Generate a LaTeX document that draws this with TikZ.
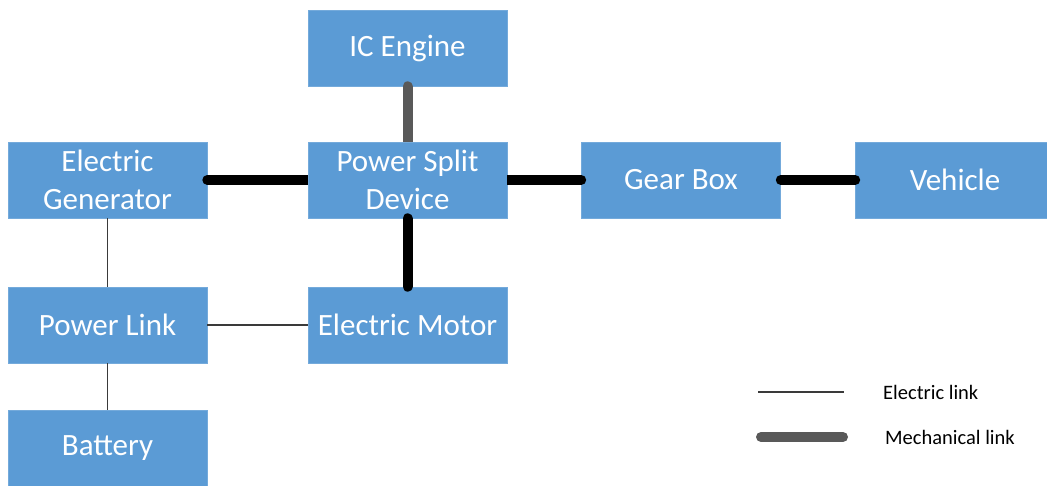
\documentclass[tikz,border=0pt]{standalone}
\usepackage{fontspec}
\setmainfont{Carlito}
\definecolor{boxblue}{HTML}{5B9BD5}
\definecolor{mechgrey}{HTML}{595959}
\definecolor{elecgrey}{HTML}{3A3A3A}
\begin{document}
\begin{tikzpicture}[x=1pt,y=-1pt,
  blockbox/.style={fill=boxblue, draw=boxblue!85!white, line width=0.6pt,
    minimum width=199pt, minimum height=76pt, inner sep=0pt,
    text=white, align=center, font=\fontsize{31}{38}\selectfont},
  mechblack/.style={line width=10pt, black},
  mechgreyline/.style={line width=10pt, mechgrey},
  eleclink/.style={line width=1.3pt, elecgrey},
  legendtext/.style={anchor=west, inner sep=0pt, font=\fontsize{20.5}{24}\selectfont, text=black}
]
\useasboundingbox (0,0) rectangle (1047,485);
\begin{scope}
\clip (0,0) rectangle (1047,485);
% boxes
\node[blockbox] (ice)   at (407.5,48)  {IC Engine};
\node[blockbox] (gen)   at (107.5,180) {Electric\\Generator};
\node[blockbox] (psd)   at (407.5,180) {Power Split\\Device};
\node[blockbox] (gear)  at (681,180)   {Gear Box};
\node[blockbox] (veh)   at (955,180)   {Vehicle};
\node[blockbox] (plink) at (107.5,325) {Power Link};
\node[blockbox] (motor) at (407.5,325) {Electric Motor};
\node[blockbox] (batt)  at (107.5,448) {Battery};
\end{scope}
% mechanical links (round cap over the box where the reference shows one, flat at box edge otherwise)
\draw[mechgreyline, line cap=round, shorten >=6pt] (ice.south) -- (psd.north);
\draw[mechgreyline] ([yshift=8pt]psd.north) -- (psd.north);
\draw[mechblack, line cap=round, shorten >=6pt] (gen.east) -- (psd.west);
\draw[mechblack] ([xshift=-8pt]psd.west) -- (psd.west);
\draw[mechblack, line cap=round, shorten <=6pt] (psd.east) -- (gear.west);
\draw[mechblack] ([xshift=8pt]psd.east) -- (psd.east);
\draw[mechblack, line cap=round] (gear.east) -- (veh.west);
\draw[mechblack, line cap=round] (psd.south) -- (motor.north);
% electric links
\draw[eleclink] (gen.south) -- (plink.north);
\draw[eleclink] (plink.south) -- (batt.north);
\draw[eleclink] (plink.east) -- (motor.west);
% legend
\coordinate (le1) at (758,392);
\coordinate (le2) at (844,392);
\coordinate (lm1) at (761,437);
\coordinate (lm2) at (843,437);
\draw[eleclink] (le1) -- (le2);
\draw[mechgreyline, line cap=round] (lm1) -- (lm2);
\node[legendtext] (lelec) at (883,392) {Electric link};
\node[legendtext] (lmech) at (885,437) {Mechanical link};
\end{tikzpicture}
\end{document}
